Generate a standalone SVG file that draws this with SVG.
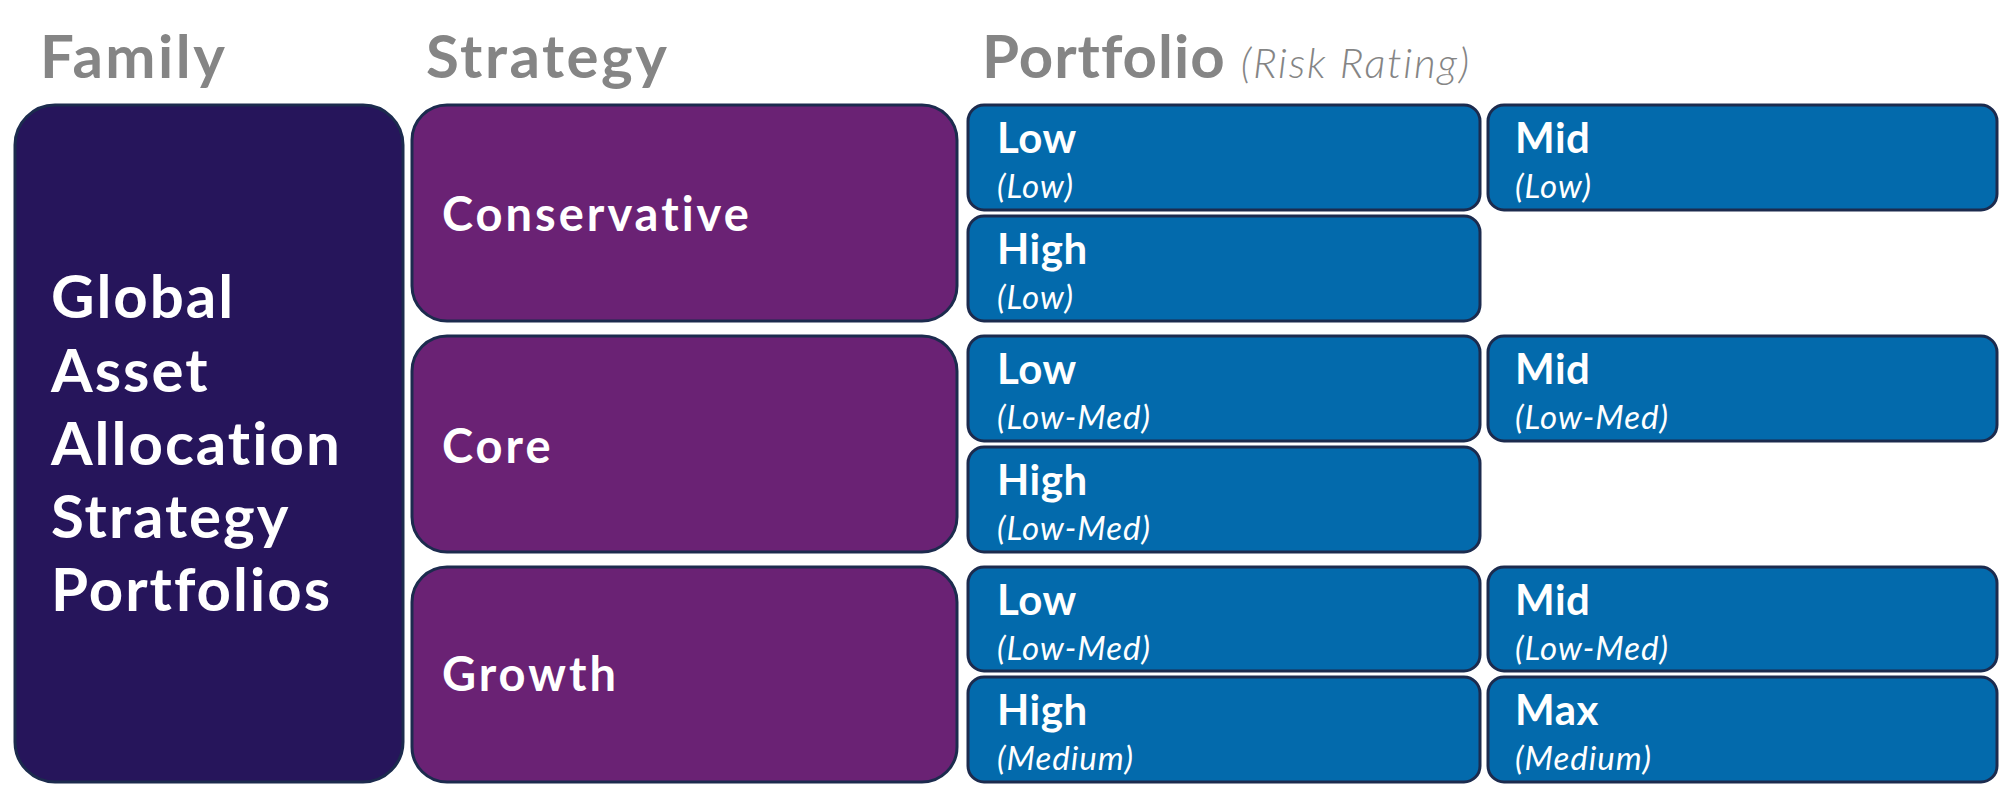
<svg xmlns="http://www.w3.org/2000/svg" width="2000" height="796" viewBox="0 0 2000 796">
<style>
  .hdr { font-family: Lato, "Open Sans", sans-serif; font-weight: 700; font-size: 60px; fill: #858585; letter-spacing: 2.5px; }
  .hdrsub { font-family: Lato, "Open Sans", sans-serif; font-style: italic; font-weight: 300; font-size: 42px; fill: #858585; letter-spacing: 1.8px; }
  .fam { fill: #26155b; stroke: #1c2b4e; stroke-width: 3; }
  .strat { fill: #6a2274; stroke: #1c2b4e; stroke-width: 3; }
  .port { fill: #036aac; stroke: #1c2b4e; stroke-width: 3; }
  .famtxt { font-family: Lato, "Open Sans", sans-serif; font-weight: 700; font-size: 60px; fill: #ffffff; letter-spacing: 2px; }
  .strtxt { font-family: Lato, "Open Sans", sans-serif; font-weight: 700; font-size: 47px; fill: #ffffff; letter-spacing: 3px; }
  .ptitle { font-family: Lato, "Open Sans", sans-serif; font-weight: 700; font-size: 42px; fill: #ffffff; letter-spacing: 0.5px; }
  .psub { font-family: Lato, "Open Sans", sans-serif; font-style: italic; font-weight: 400; font-size: 33px; fill: #ffffff; letter-spacing: 1px; }
</style>
<rect width="2000" height="796" fill="#ffffff"/>
<g id="headers">
  <text class="hdr" x="40" y="78">Family</text>
  <text class="hdr" x="426" y="78">Strategy</text>
  <text x="982" y="78"><tspan class="hdr" style="letter-spacing:1px">Portfolio</tspan><tspan class="hdrsub" dx="15">(Risk Rating)</tspan></text>
</g>
<g id="family">
  <rect class="fam" x="15" y="105" width="388" height="677" rx="40"/>
  <text class="famtxt" x="51" y="318">Global</text>
  <text class="famtxt" x="51" y="392">Asset</text>
  <text class="famtxt" x="51" y="465">Allocation</text>
  <text class="famtxt" x="51" y="538">Strategy</text>
  <text class="famtxt" x="51" y="611">Portfolios</text>
</g>
<g id="strategy-conservative">
  <rect class="strat" x="412" y="105" width="545" height="216" rx="35"/>
  <text class="strtxt" x="442" y="231">Conservative</text>
</g>
<g id="strategy-core">
  <rect class="strat" x="412" y="336" width="545" height="216" rx="35"/>
  <text class="strtxt" x="442" y="463">Core</text>
</g>
<g id="strategy-growth">
  <rect class="strat" x="412" y="567" width="545" height="215" rx="35"/>
  <text class="strtxt" x="442" y="691">Growth</text>
</g>
<g id="cons-low">
  <rect class="port" x="968" y="105" width="512" height="105" rx="16"/>
  <text class="ptitle" x="997" y="153">Low</text>
  <text class="psub" x="997" y="198">(Low)</text>
</g>
<g id="cons-mid">
  <rect class="port" x="1488" y="105" width="509" height="105" rx="16"/>
  <text class="ptitle" x="1515" y="153">Mid</text>
  <text class="psub" x="1515" y="198">(Low)</text>
</g>
<g id="cons-high">
  <rect class="port" x="968" y="216" width="512" height="105" rx="16"/>
  <text class="ptitle" x="997" y="264">High</text>
  <text class="psub" x="997" y="309">(Low)</text>
</g>
<g id="core-low">
  <rect class="port" x="968" y="336" width="512" height="105" rx="16"/>
  <text class="ptitle" x="997" y="384">Low</text>
  <text class="psub" x="997" y="429">(Low-Med)</text>
</g>
<g id="core-mid">
  <rect class="port" x="1488" y="336" width="509" height="105" rx="16"/>
  <text class="ptitle" x="1515" y="384">Mid</text>
  <text class="psub" x="1515" y="429">(Low-Med)</text>
</g>
<g id="core-high">
  <rect class="port" x="968" y="447" width="512" height="105" rx="16"/>
  <text class="ptitle" x="997" y="495">High</text>
  <text class="psub" x="997" y="540">(Low-Med)</text>
</g>
<g id="growth-low">
  <rect class="port" x="968" y="567" width="512" height="104" rx="16"/>
  <text class="ptitle" x="997" y="615">Low</text>
  <text class="psub" x="997" y="660">(Low-Med)</text>
</g>
<g id="growth-mid">
  <rect class="port" x="1488" y="567" width="509" height="104" rx="16"/>
  <text class="ptitle" x="1515" y="615">Mid</text>
  <text class="psub" x="1515" y="660">(Low-Med)</text>
</g>
<g id="growth-high">
  <rect class="port" x="968" y="677" width="512" height="105" rx="16"/>
  <text class="ptitle" x="997" y="725">High</text>
  <text class="psub" x="997" y="770">(Medium)</text>
</g>
<g id="growth-max">
  <rect class="port" x="1488" y="677" width="509" height="105" rx="16"/>
  <text class="ptitle" x="1515" y="725">Max</text>
  <text class="psub" x="1515" y="770">(Medium)</text>
</g>
<g id="connectors"></g>
</svg>
